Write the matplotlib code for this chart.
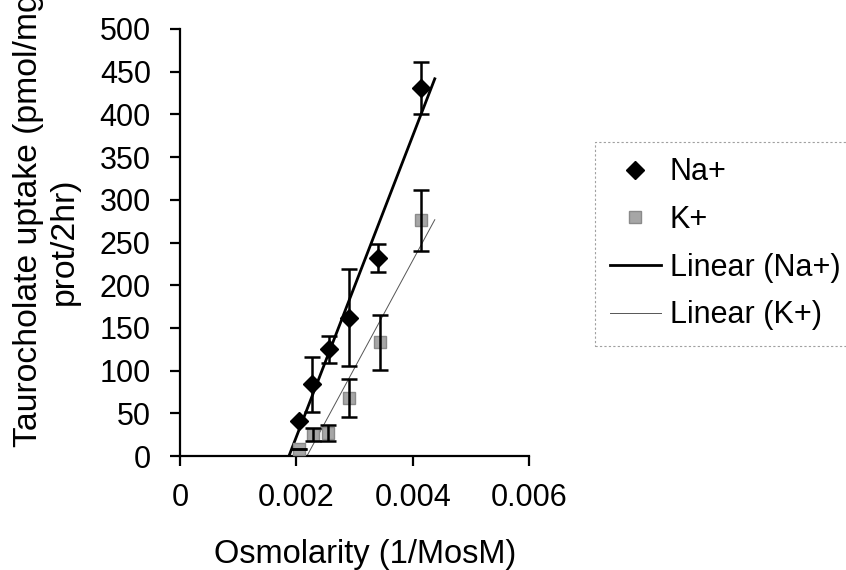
import matplotlib.pyplot as plt
import numpy as np

plt.rcParams["font.family"] = ["Liberation Sans", "DejaVu Sans"]

# Na+ buffer: osmolarity (1/mOsM) vs taurocholate uptake, with error
osm_na = [0.00205, 0.00227, 0.00256, 0.00291, 0.00340, 0.00415]
uptake_na = [41, 84, 125, 162, 232, 431]
err_na = [0, 32, 16, 57, 16, 30]

# K+ buffer
osm_k = [0.00205, 0.00228, 0.00254, 0.00291, 0.00343, 0.00415]
uptake_k = [8, 25, 27, 68, 133, 276]
err_k = [0, 8, 9, 22, 32, 36]

x_ticks = [0, 0.002, 0.004, 0.006]
x_tick_labels = ["0", "0.002", "0.004", "0.006"]
y_ticks = list(range(0, 501, 50))

TICK_FONT = 22
LABEL_FONT = 23.5
TREND_END = 0.00438

fig = plt.figure(figsize=(8.46, 5.70), dpi=100)
ax = fig.add_axes([180 / 846, 1 - 456 / 570, 349 / 846, 427 / 570])

# least-squares trendlines, like the spreadsheet "Linear" fit
fit_na = np.polyfit(osm_na, uptake_na, 1)
fit_k = np.polyfit(osm_k, uptake_k, 1)
xs = np.linspace(0.0015, TREND_END, 50)
ax.plot(xs, np.polyval(fit_na, xs), color="black", lw=2.0, zorder=2,
        label="Linear (Na+)")
ax.plot(xs, np.polyval(fit_k, xs), color="#555555", lw=0.7, zorder=2,
        label="Linear (K+)")

ax.plot(osm_na, uptake_na, ls="none", marker="D", ms=9, color="black",
        zorder=3, label="Na+")
ax.plot(osm_k, uptake_k, ls="none", marker="s", ms=9, color="#a6a6a6",
        mec="#8a8a8a", zorder=3, label="K+")

ax.errorbar(osm_na, uptake_na, yerr=err_na, fmt="none", ecolor="black",
            elinewidth=1.8, capsize=6, capthick=1.8, zorder=4)
ax.errorbar(osm_k, uptake_k, yerr=err_k, fmt="none", ecolor="black",
            elinewidth=1.8, capsize=6, capthick=1.8, zorder=4)

ax.set_xlim(0, 0.006)
ax.set_ylim(0, 500)
ax.set_xticks(x_ticks)
ax.set_xticklabels(x_tick_labels)
ax.set_yticks(y_ticks)

for side in ("top", "right"):
    ax.spines[side].set_visible(False)
for side in ("left", "bottom"):
    ax.spines[side].set_linewidth(1.6)
ax.tick_params(direction="out", length=7.5, width=1.6, labelsize=TICK_FONT)
ax.tick_params(axis="y", pad=13.5)
ax.tick_params(axis="x", pad=12)

fig.text(365 / 846, 1 - 563 / 570, "Osmolarity (1/MosM)", ha="center",
         va="baseline", fontsize=LABEL_FONT)

# two-line y title, the first line runs off the top of the figure
fig.text(37 / 846, 1 - 447 / 570, "Taurocholate uptake (pmol/mg",
         rotation=90, rotation_mode="anchor", ha="left", va="baseline",
         fontsize=24.3)
fig.text(73 / 846, 1 - 177 / 570, "prot/2hr)",
         rotation=90, rotation_mode="anchor", ha="right", va="baseline",
         fontsize=24.3)

handles, labels = ax.get_legend_handles_labels()
order = [2, 3, 0, 1]
leg = fig.legend([handles[i] for i in order], [labels[i] for i in order],
                 loc="upper left", bbox_to_anchor=(595 / 846, 1 - 142 / 570),
                 fontsize=TICK_FONT, frameon=True, fancybox=False,
                 handlelength=1.65, handletextpad=0.3, labelspacing=0.58,
                 borderpad=0.5, borderaxespad=0)
frame = leg.get_frame()
frame.set_edgecolor("#888888")
frame.set_linestyle((0, (2, 2)))
frame.set_linewidth(0.8)

fig.savefig("out.png", dpi=100)
